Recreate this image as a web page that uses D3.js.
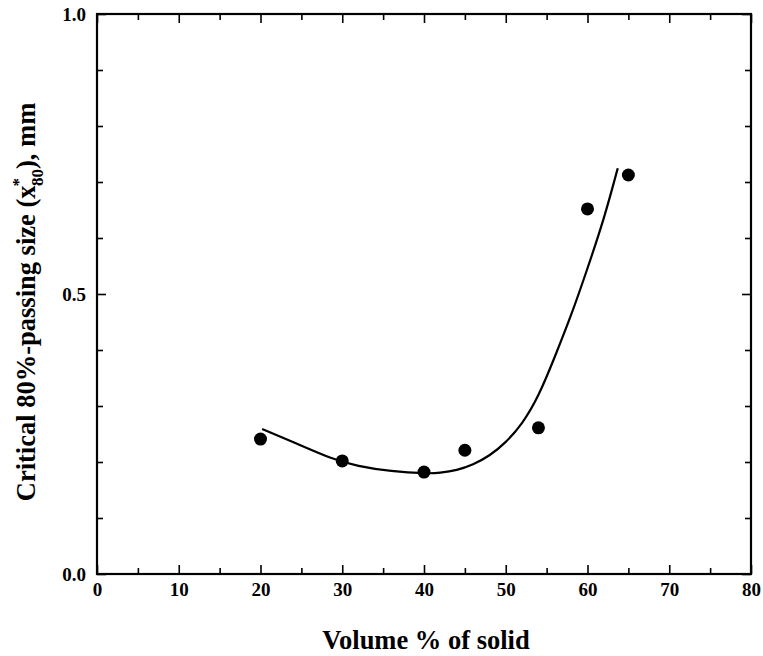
<!DOCTYPE html>
<html>
<head>
<meta charset="utf-8">
<script src="https://cdn.jsdelivr.net/npm/d3@7"></script>
<style>
  html, body { margin: 0; padding: 0; background: #fff; }
  svg { display: block; }
  text { font-family: "Liberation Serif", "Times New Roman", serif; font-weight: bold; fill: #000; }
</style>
</head>
<body>
<svg id="chart" width="763" height="656"></svg>
<script>
// Measured points: solids volume fraction vs critical x80
const volumePct = [20, 30, 40, 45, 54, 60, 65];
const criticalX80 = [0.241, 0.202, 0.182, 0.221, 0.261, 0.652, 0.7125];

// Fitted trend line, traced as a list of points
const fitX = [20.2, 24.4, 28.5, 32, 36, 40, 42, 44, 46, 48, 50, 52, 54, 56, 58, 60, 62, 63.7];
const fitY = [0.259, 0.233, 0.208, 0.193, 0.184, 0.180, 0.181, 0.186, 0.196, 0.212, 0.236, 0.270, 0.320, 0.388, 0.463, 0.546, 0.636, 0.7245];

// Axis ticks
const xMajorTicks = [0, 10, 20, 30, 40, 50, 60, 70, 80];
const xMinorTicks = [5, 15, 25, 35, 45, 55, 65, 75];
const yLabelTicks = [0.0, 0.5, 1.0];
const yMinorTicks = [0.1, 0.2, 0.3, 0.4, 0.6, 0.7, 0.8, 0.9];

const svg = d3.select("#chart");
const plotL = 97, plotR = 751, plotT = 14, plotB = 574;

const x = d3.scaleLinear().domain([0, 80]).range([plotL, plotR]);
const y = d3.scaleLinear().domain([0, 1]).range([plotB, plotT]);

const majorLen = 9, minorLen = 6;

// Bottom axis (ticks inward)
const gB = svg.append("g").attr("transform", `translate(0,${plotB})`)
  .call(d3.axisBottom(x).tickValues(xMajorTicks).tickSizeInner(-majorLen).tickSizeOuter(0).tickPadding(9).tickFormat(d3.format("d")));
gB.append("g").call(d3.axisBottom(x).tickValues(xMinorTicks).tickSizeInner(-minorLen).tickSizeOuter(0).tickFormat(""));

// Top axis
const gT = svg.append("g").attr("transform", `translate(0,${plotT})`)
  .call(d3.axisTop(x).tickValues(xMajorTicks).tickSizeInner(-majorLen).tickSizeOuter(0).tickFormat(""));
gT.append("g").call(d3.axisTop(x).tickValues(xMinorTicks).tickSizeInner(-minorLen).tickSizeOuter(0).tickFormat(""));

// Left axis
const gL = svg.append("g").attr("transform", `translate(${plotL},0)`)
  .call(d3.axisLeft(y).tickValues(yLabelTicks).tickSizeInner(-majorLen).tickSizeOuter(0).tickPadding(11).tickFormat(d3.format(".1f")));
gL.append("g").call(d3.axisLeft(y).tickValues(yMinorTicks).tickSizeInner(-minorLen).tickSizeOuter(0).tickFormat(""));

// Right axis
const gR = svg.append("g").attr("transform", `translate(${plotR},0)`)
  .call(d3.axisRight(y).tickValues(yLabelTicks).tickSizeInner(-majorLen).tickSizeOuter(0).tickFormat(""));
gR.append("g").call(d3.axisRight(y).tickValues(yMinorTicks).tickSizeInner(-minorLen).tickSizeOuter(0).tickFormat(""));

svg.selectAll(".domain").remove();
svg.selectAll("g").attr("font-size", null).attr("font-family", null);
svg.selectAll(".tick line").attr("stroke", "#000").attr("stroke-width", 1.6);
svg.selectAll(".tick text").style("font-size", "19px").attr("fill", "#000");

// Frame
svg.append("rect")
  .attr("x", plotL).attr("y", plotT)
  .attr("width", plotR - plotL).attr("height", plotB - plotT)
  .attr("fill", "none").attr("stroke", "#000").attr("stroke-width", 2.2);

// Trend curve
const fitData = fitX.map((v, i) => [v, fitY[i]]);
svg.append("path")
  .datum(fitData)
  .attr("fill", "none").attr("stroke", "#000").attr("stroke-width", 2.2)
  .attr("d", d3.line().x(d => x(d[0])).y(d => y(d[1])).curve(d3.curveNatural));

// Data points
svg.append("g").selectAll("circle")
  .data(volumePct.map((v, i) => [v, criticalX80[i]]))
  .join("circle")
  .attr("cx", d => x(d[0])).attr("cy", d => y(d[1]))
  .attr("r", 6.5).attr("fill", "#000");

// Axis titles
svg.append("text")
  .attr("x", 426).attr("y", 649)
  .attr("text-anchor", "middle").style("font-size", "26.5px")
  .text("Volume % of solid");

const yt = svg.append("text")
  .attr("transform", `translate(35,302) rotate(-90)`)
  .attr("text-anchor", "middle").style("font-size", "26.5px");
yt.append("tspan").text("Critical 80%-passing size (x");
yt.append("tspan").attr("dy", "-11").attr("dx", "-1").style("font-size", "17px").text("*");
yt.append("tspan").attr("dy", "19").attr("dx", "-8").style("font-size", "17px").text("80");
yt.append("tspan").attr("dy", "-8").text("), mm");
</script>
</body>
</html>
